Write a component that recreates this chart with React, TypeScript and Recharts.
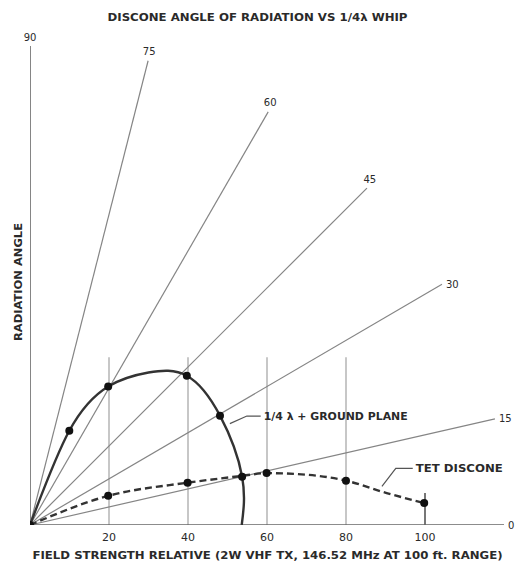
import { ComposedChart, Line, Scatter, XAxis, YAxis, ReferenceLine } from 'recharts';

// radial angle lines, drawn from the origin to the end point
const rayAngles = [90, 75, 60, 45, 30, 15, 0];
const rayEndX = [0, 29.9, 60.3, 85.3, 104.3, 117.7, 120];
const rayEndY = [120, 116.3, 103.5, 84.4, 60.3, 26.6, 0];

const xTicks = [20, 40, 60, 80, 100];
const gridTops = [42, 42, 42, 42, 8];

// 1/4 wave + ground plane (solid)
const groundX = [0, 9.95, 19.8, 30, 39.7, 48.1, 53.7, 53.6];
const groundY = [0, 23.6, 34.7, 38.2, 37.4, 27.4, 12.1, 0];
const groundMarkX = [9.95, 19.8, 39.7, 48.1, 53.7];
const groundMarkY = [23.6, 34.7, 37.4, 27.4, 12.1];

// TET discone (dashed)
const disconeX = [0, 19.8, 39.9, 53.7, 59.9, 70, 80, 90.3, 99.8];
const disconeY = [0, 7.3, 10.6, 12.3, 13.0, 12.6, 11.1, 8.0, 5.5];
const disconeMarkX = [0, 19.8, 39.9, 59.9, 80, 99.8];
const disconeMarkY = [0, 7.3, 10.6, 13.0, 11.1, 5.5];

// callouts
const groundLeaderX = [50.6, 54.9, 58.4];
const groundLeaderY = [25.4, 27.3, 27.3];
const disconeLeaderX = [89.1, 92.6, 96.9];
const disconeLeaderY = [9.7, 14.2, 14.2];

const FONT = '"DejaVu Sans", sans-serif';
const INK = '#2a2a2a';
const GRID = '#858585';

const zip = (xs: number[], ys: number[]) => xs.map((x, i) => ({ x, y: ys[i] }));

const rayLabel = (angle: number) => (props: any) => {
  if (props.index !== 1) return null;
  const rad = (angle * Math.PI) / 180;
  const low = angle < 45;
  const x = low ? props.x + 4 : props.x + 4 * Math.cos(rad);
  const y = low ? props.y : props.y - 9;
  return (
    <text
      x={x}
      y={y}
      textAnchor={low ? 'start' : 'middle'}
      dominantBaseline="central"
      fontFamily={FONT}
      fontSize={10}
      fill={INK}
    >
      {angle}
    </text>
  );
};

const calloutLabel = (text: string, len: number) => (props: any) => {
  if (props.index !== 2) return null;
  return (
    <text
      x={props.x + 3}
      y={props.y}
      dominantBaseline="central"
      fontFamily={FONT}
      fontSize={10}
      fontWeight="bold"
      fill={INK}
      textLength={len}
      lengthAdjust="spacingAndGlyphs"
    >
      {text}
    </text>
  );
};

const Marker = (p: any) => <circle cx={p.cx} cy={p.cy} r={4} fill="#111" />;

export default function App() {
  return (
    <div style={{ position: 'absolute', left: 0, top: 0, width: 517, height: 565, background: '#fff' }}>
      <ComposedChart width={517} height={565} margin={{ top: 46, right: 13, left: 0, bottom: 0 }}>
        <XAxis
          type="number"
          dataKey="x"
          domain={[0, 120]}
          ticks={xTicks}
          allowDataOverflow
          height={40}
          tickLine={false}
          axisLine={false}
          tick={{ fontFamily: FONT, fontSize: 11, fill: INK }}
        />
        <YAxis type="number" dataKey="y" domain={[0, 120]} allowDataOverflow width={30} tick={false} axisLine={false} />

        {xTicks.map((t, i) => (
          <ReferenceLine
            key={`g${t}`}
            segment={[{ x: t, y: 0 }, { x: t, y: gridTops[i] }]}
            stroke={t === 100 ? '#555' : '#999'}
            strokeWidth={t === 100 ? 1.6 : 1.1}
          />
        ))}

        {rayAngles.map((a, i) => (
          <Line
            key={`r${a}`}
            data={[{ x: 0, y: 0 }, { x: rayEndX[i], y: rayEndY[i] }]}
            dataKey="y"
            type="linear"
            stroke={a === 90 || a === 0 ? '#666' : GRID}
            strokeWidth={a === 90 || a === 0 ? 1.6 : 1.2}
            dot={false}
            activeDot={false}
            label={rayLabel(a)}
            isAnimationActive={false}
          />
        ))}

        <Line
          data={zip(groundX, groundY)}
          dataKey="y"
          type="natural"
          stroke="#333"
          strokeWidth={2.4}
          dot={false}
          activeDot={false}
          isAnimationActive={false}
        />
        <Line
          data={zip(disconeX, disconeY)}
          dataKey="y"
          type="monotone"
          stroke="#333"
          strokeWidth={2.4}
          strokeDasharray="7 4"
          dot={false}
          activeDot={false}
          isAnimationActive={false}
        />

        <Line
          data={zip(groundLeaderX, groundLeaderY)}
          dataKey="y"
          type="linear"
          stroke="#555"
          strokeWidth={1.2}
          dot={false}
          activeDot={false}
          label={calloutLabel('1/4 λ + GROUND PLANE', 144)}
          isAnimationActive={false}
        />
        <Line
          data={zip(disconeLeaderX, disconeLeaderY)}
          dataKey="y"
          type="linear"
          stroke="#555"
          strokeWidth={1.2}
          dot={false}
          activeDot={false}
          label={calloutLabel('TET DISCONE', 87)}
          isAnimationActive={false}
        />

        <Scatter data={zip(groundMarkX, groundMarkY)} shape={Marker} isAnimationActive={false} />
        <Scatter data={zip(disconeMarkX, disconeMarkY)} shape={Marker} isAnimationActive={false} />
      </ComposedChart>

      <svg width={517} height={565} style={{ position: 'absolute', left: 0, top: 0, pointerEvents: 'none' }}>
        <text
          x={257.5}
          y={17}
          textAnchor="middle"
          dominantBaseline="central"
          fontFamily={FONT}
          fontSize={10}
          fontWeight="bold"
          fill={INK}
          textLength={300}
          lengthAdjust="spacingAndGlyphs"
        >
          DISCONE ANGLE OF RADIATION VS 1/4λ WHIP
        </text>
        <text
          x={18}
          y={282}
          transform="rotate(-90 18 282)"
          textAnchor="middle"
          dominantBaseline="central"
          fontFamily={FONT}
          fontSize={10}
          fontWeight="bold"
          fill={INK}
          textLength={118}
          lengthAdjust="spacingAndGlyphs"
        >
          RADIATION ANGLE
        </text>
        <text
          x={267.5}
          y={555}
          textAnchor="middle"
          dominantBaseline="central"
          fontFamily={FONT}
          fontSize={10.5}
          fontWeight="bold"
          fill={INK}
          textLength={470}
          lengthAdjust="spacingAndGlyphs"
        >
          FIELD STRENGTH RELATIVE (2W VHF TX, 146.52 MHz AT 100 ft. RANGE)
        </text>
      </svg>
    </div>
  );
}
